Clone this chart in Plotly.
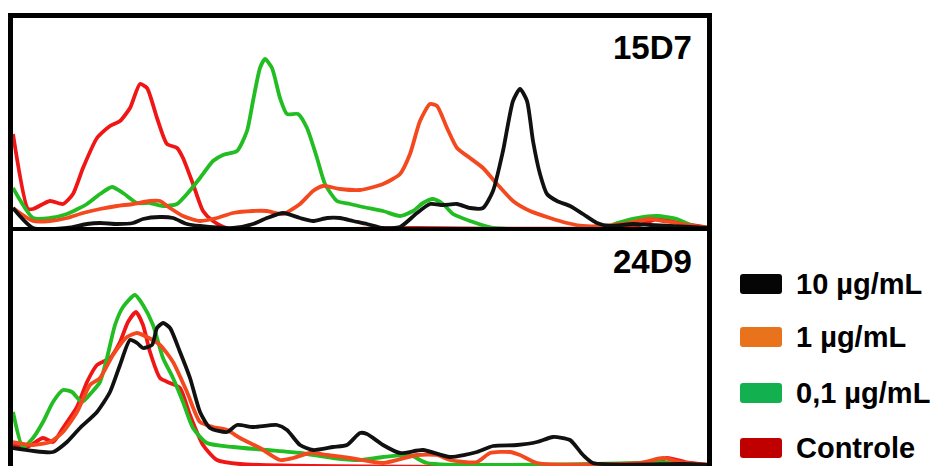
import plotly.graph_objects as go

# page body has an 8px margin; figure sized to fill the remaining window
OFF = 8
W, H = 938 - OFF, 466 - OFF

# ---------------- data (channel vs counts) ----------------
# Panel 15D7
top_ctrl_x = [0,15,20,37,50,60,70,84,97,107,117,127,134,144,154,164,170,180,190,200,214,400,620,644,667,697]
top_ctrl_y = [94,19,19,27,24,34,60,90,102,107,120,144,140,110,84,80,70,44,17,7,0,0,1,9,5,0]

top_g01_x = [0,20,37,54,74,87,99,110,124,137,150,164,174,187,200,210,224,234,240,247,252,259,267,274,285,294,304,312,324,337,350,370,387,400,410,420,430,440,457,480,590,604,624,644,664,680,697]
top_g01_y = [40,10,10,14,24,34,41,35,25,25,22,24,34,50,67,73,77,97,127,160,169,160,130,114,114,100,70,44,27,24,21,17,12,17,25,29,24,14,7,0,0,5,10,12,9,2,0]

top_g1_x = [0,20,37,54,70,87,104,120,137,147,157,170,187,204,220,240,254,270,287,300,310,327,347,370,387,397,407,417,424,434,444,457,470,484,500,517,537,554,570,590,610,637,650,664,680,697]
top_g1_y = [20,7,7,10,15,19,22,24,27,27,20,12,7,10,15,17,17,14,24,37,42,39,38,44,54,74,107,124,122,100,80,70,60,44,27,17,10,5,2,2,4,9,7,5,2,0]

top_g10_x = [0,20,54,74,87,104,120,130,147,160,174,187,220,240,254,270,287,300,314,327,340,354,370,387,404,417,430,444,457,470,480,490,500,507,514,520,527,534,544,557,570,584,597,620,637,657,677,697]
top_g10_y = [20,0,0,4,5,4,5,9,11,10,4,2,0,4,10,15,10,7,10,10,7,4,0,1,15,24,23,24,20,20,37,77,127,139,127,87,54,34,27,22,14,5,2,4,3,2,1,0]

# Panel 24D9
bot_ctrl_x = [0,14,30,40,50,64,74,84,97,107,115,123,130,137,147,157,167,177,190,204,227,637,654,672,697]
bot_ctrl_y = [20,18,27,23,37,58,83,100,107,123,143,153,140,113,87,82,77,50,20,5,1,1,7,3,0]

bot_g01_x = [0,10,20,30,40,50,59,69,79,87,94,102,110,122,130,140,150,160,170,180,194,220,254,287,320,347,370,397,414,627,644,667,697]
bot_g01_y = [53,18,27,43,63,75,73,63,73,83,107,140,158,170,160,140,107,87,63,37,22,18,15,12,7,5,8,10,2,2,3,1,0]

bot_g1_x = [0,20,37,50,64,77,87,100,114,124,134,147,160,174,187,200,214,227,247,267,280,297,314,337,370,404,424,437,464,477,497,507,524,627,650,667,697]
bot_g1_y = [23,20,23,33,53,80,87,110,128,132,128,120,103,73,43,38,35,27,17,5,7,12,10,7,2,10,10,5,3,12,13,10,2,2,7,3,0]

bot_g10_x = [0,40,54,67,84,97,107,117,124,130,139,144,150,157,167,177,187,197,214,224,240,264,274,287,300,320,334,347,354,370,387,410,437,464,480,504,524,540,557,570,580,670,697]
bot_g10_y = [17,13,23,37,53,73,100,125,122,117,120,137,142,137,113,87,53,37,33,40,38,40,35,20,15,18,20,32,31,20,12,15,8,13,19,20,23,28,25,10,2,1,0]

panel_labels = ["15D7", "24D9"]
legend_labels = ["10 µg/mL", "1 µg/mL", "0,1 µg/mL", "Controle"]
legend_colors = ["#050505", "#e8731c", "#12b04f", "#c00000"]

line_colors = {"ctrl": "#f01616", "g01": "#22bd22", "g1": "#f4481f", "g10": "#111111"}

# ---------------- figure ----------------
fig = go.Figure()

def px_x(p):
    return (p - OFF) / W

def px_y(p):
    return 1 - (p - OFF) / H

series_top = [(top_ctrl_x, top_ctrl_y, "ctrl"), (top_g01_x, top_g01_y, "g01"),
              (top_g1_x, top_g1_y, "g1"), (top_g10_x, top_g10_y, "g10")]
series_bot = [(bot_ctrl_x, bot_ctrl_y, "ctrl"), (bot_g01_x, bot_g01_y, "g01"),
              (bot_g1_x, bot_g1_y, "g1"), (bot_g10_x, bot_g10_y, "g10")]

for xs, ys, k in series_top:
    fig.add_trace(go.Scatter(x=xs, y=ys, mode="lines", xaxis="x", yaxis="y",
                             line=dict(color=line_colors[k], width=3.8, shape="spline", smoothing=0.6),
                             showlegend=False, hoverinfo="skip"))
for xs, ys, k in series_bot:
    fig.add_trace(go.Scatter(x=xs, y=ys, mode="lines", xaxis="x2", yaxis="y2",
                             line=dict(color=line_colors[k], width=3.8, shape="spline", smoothing=0.6),
                             showlegend=False, hoverinfo="skip"))

ax_common = dict(visible=False, showgrid=False, zeroline=False, fixedrange=True)
fig.update_layout(
    width=W, height=H,
    margin=dict(l=0, r=0, t=0, b=0),
    paper_bgcolor="white", plot_bgcolor="white",
    xaxis=dict(domain=[px_x(13), px_x(707)], range=[0, 694], anchor="y", **ax_common),
    yaxis=dict(domain=[px_y(228), px_y(18)], range=[0, 210], anchor="x", **ax_common),
    xaxis2=dict(domain=[px_x(13), px_x(707)], range=[0, 694], anchor="y2", **ax_common),
    yaxis2=dict(domain=[px_y(466), px_y(231)], range=[-1, 234], anchor="x2", **ax_common),
)

shapes = []
# frame
shapes.append(dict(type="rect", xref="paper", yref="paper",
                   x0=px_x(10.5), x1=px_x(709.5), y0=px_y(480), y1=px_y(15.5),
                   line=dict(color="black", width=5), fillcolor="rgba(0,0,0,0)", layer="above"))
# divider
shapes.append(dict(type="line", xref="paper", yref="paper",
                   x0=px_x(10.5), x1=px_x(709.5), y0=px_y(229), y1=px_y(229),
                   line=dict(color="black", width=4), layer="above"))

# legend boxes (rounded)
box_x0, box_x1 = 740, 782
centers = [284, 337, 393, 448]
r = 3
for c, col in zip(centers, legend_colors):
    y0, y1 = c - 10, c + 10
    path = (f"M {px_x(box_x0 + r)},{px_y(y0)} L {px_x(box_x1 - r)},{px_y(y0)} "
            f"Q {px_x(box_x1)},{px_y(y0)} {px_x(box_x1)},{px_y(y0 + r)} "
            f"L {px_x(box_x1)},{px_y(y1 - r)} Q {px_x(box_x1)},{px_y(y1)} {px_x(box_x1 - r)},{px_y(y1)} "
            f"L {px_x(box_x0 + r)},{px_y(y1)} Q {px_x(box_x0)},{px_y(y1)} {px_x(box_x0)},{px_y(y1 - r)} "
            f"L {px_x(box_x0)},{px_y(y0 + r)} Q {px_x(box_x0)},{px_y(y0)} {px_x(box_x0 + r)},{px_y(y0)} Z")
    shapes.append(dict(type="path", xref="paper", yref="paper", path=path,
                       fillcolor=col, line=dict(width=0)))

annotations = []
for lab, c in zip(legend_labels, centers):
    annotations.append(dict(text=f"<b>{lab}</b>", xref="paper", yref="paper",
                            x=px_x(794), y=px_y(c), xanchor="left", yanchor="middle",
                            showarrow=False,
                            font=dict(family="Liberation Sans, Arial", size=29, color="black")))
for lab, cy in zip(panel_labels, [47, 262]):
    annotations.append(dict(text=f"<b>{lab}</b>", xref="paper", yref="paper",
                            x=px_x(694), y=px_y(cy), xanchor="right", yanchor="middle",
                            showarrow=False,
                            font=dict(family="Liberation Sans, Arial", size=33, color="black")))

fig.update_layout(shapes=shapes, annotations=annotations)

fig.write_html("out.html")
